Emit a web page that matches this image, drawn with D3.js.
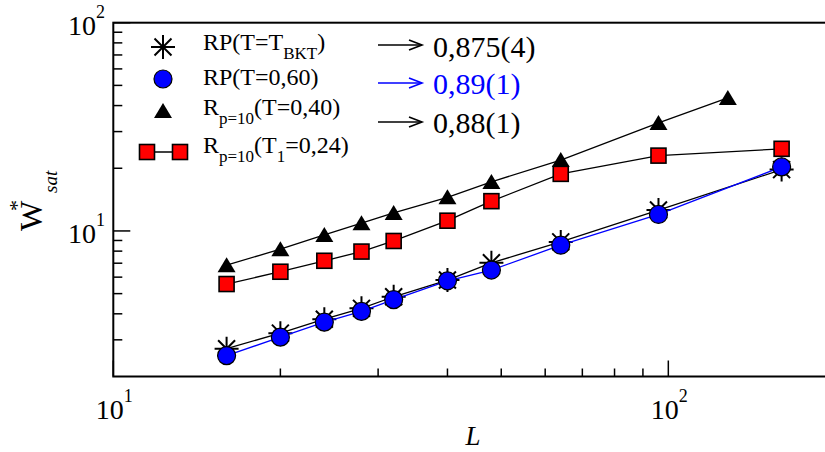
<!DOCTYPE html>
<html>
<head>
<meta charset="utf-8">
<script src="https://cdn.jsdelivr.net/npm/d3@7"></script>
<style>
  html, body { margin: 0; padding: 0; background: #fff; }
  svg { display: block; }
  text { font-family: "Liberation Serif", "DejaVu Serif", serif; }
</style>
</head>
<body>
<svg id="chart" width="825" height="452"></svg>
<script>
// ---- data ----
const sizesL   = [16, 20, 24, 28, 32, 40, 48, 64, 96, 160];
const sizesTri = [16, 20, 24, 28, 32, 40, 48, 64, 96, 128];
const wBKT     = [2.72, 3.23, 3.77, 4.25, 4.83, 5.81, 7.03, 8.86, 12.6, 19.7];   // RP(T=T_BKT), stars
const w060     = [2.52, 3.09, 3.65, 4.11, 4.68, 5.76, 6.49, 8.54, 12.0, 20.3];   // RP(T=0,60), circles
const w040     = [6.85, 8.17, 9.57, 10.9, 12.2, 14.5, 17.2, 21.9, 33.0, 43.5];   // Rp=10(T=0,40), triangles
const w024     = [5.56, 6.37, 7.19, 7.96, 8.95, 11.2, 13.9, 18.8, 23.0, 24.8];   // Rp=10(T1=0,24), squares
const xMajor   = [10, 100];
const yMajor   = [10, 100];
const xMinor   = [20, 30, 40, 50, 60, 70, 80, 90];
const yMinor   = [3, 4, 5, 6, 7, 8, 9, 20, 30, 40, 50, 60, 70, 80, 90];
const exponents = {10: "1", 100: "2"};
const slopes   = ["0,875(4)", "0,89(1)", "0,88(1)"];

const BLUE = "#0000ff", RED = "#ff0000";
const FONT = "Liberation Serif, DejaVu Serif, serif";

const svg = d3.select("#chart");
const x = d3.scaleLog().domain([10, 200]).range([113.3, 835.4]);
const y = d3.scaleLog().domain([2, 100]).range([376.5, 22.7]);

svg.append("defs").append("clipPath").attr("id", "c")
  .append("rect").attr("x", 0).attr("y", 0).attr("width", 825).attr("height", 452);

// frame
svg.append("rect")
  .attr("x", x(10)).attr("y", y(100))
  .attr("width", x(200) - x(10)).attr("height", y(2) - y(100))
  .attr("fill", "none").attr("stroke", "#000").attr("stroke-width", 2);

// ticks
const tk = svg.append("g").attr("stroke", "#000").attr("stroke-width", 1.5);
tk.selectAll(".xmaj").data(xMajor).join("line")
  .attr("x1", d => x(d)).attr("x2", d => x(d))
  .attr("y1", y(2)).attr("y2", y(2) - 16);
tk.selectAll(".xmin").data(xMinor).join("line")
  .attr("x1", d => x(d)).attr("x2", d => x(d))
  .attr("y1", y(2)).attr("y2", y(2) - 8);
tk.selectAll(".ymaj").data(yMajor).join("line")
  .attr("x1", x(10)).attr("x2", x(10) + 17)
  .attr("y1", d => y(d)).attr("y2", d => y(d));
tk.selectAll(".ymin").data(yMinor).join("line")
  .attr("x1", x(10)).attr("x2", x(10) + 9)
  .attr("y1", d => y(d)).attr("y2", d => y(d));

// tick labels
function powLabel(sel) {
  sel.attr("font-family", FONT);
  sel.append("tspan").attr("font-size", 28).text("10");
  sel.append("tspan").attr("font-size", 18).attr("dy", -17).text(d => exponents[d]);
}
svg.append("g").selectAll("text").data(xMajor).join("text")
  .attr("x", d => x(d) + 1).attr("y", 419)
  .attr("text-anchor", "middle")
  .call(powLabel);
svg.append("g").selectAll("text").data(yMajor).join("text")
  .attr("x", 105).attr("y", d => y(d) + 12)
  .attr("text-anchor", "end")
  .call(powLabel);

// axis titles
svg.append("text").attr("x", 473).attr("y", 445).attr("text-anchor", "middle")
  .attr("font-family", FONT).attr("font-size", 27).attr("font-style", "italic").text("L");
svg.append("text").attr("transform", "translate(42,231) rotate(-90)")
  .attr("font-family", FONT).attr("font-size", 32).text("W");
svg.append("text").attr("transform", "translate(24,211) rotate(-90)")
  .attr("font-family", FONT).attr("font-size", 22).text("*");
svg.append("text").attr("transform", "translate(57,193) rotate(-90)")
  .attr("font-family", FONT).attr("font-size", 19).attr("font-style", "italic").text("sat");

// markers
const starPath = (r) => {
  const a = r * Math.SQRT1_2;
  return `M${-r},0L${r},0M0,${-r}L0,${r}M${-a},${-a}L${a},${a}M${-a},${a}L${a},${-a}`;
};
const triPath = "M0,-8L9,7L-9,7Z";

const line = (xs, ys) => d3.line().x((d, i) => x(xs[i])).y(d => y(d))(ys);
const plot = svg.append("g").attr("clip-path", "url(#c)");

// stars: RP(T=T_BKT)
plot.append("path").attr("d", line(sizesL, wBKT))
  .attr("fill", "none").attr("stroke", "#000").attr("stroke-width", 1.3);
plot.append("g").selectAll("path").data(wBKT).join("path")
  .attr("transform", (d, i) => `translate(${x(sizesL[i])},${y(d)})`)
  .attr("d", starPath(12)).attr("stroke", "#000").attr("stroke-width", 2).attr("fill", "none");

// circles: RP(T=0,60)
plot.append("path").attr("d", line(sizesL, w060))
  .attr("fill", "none").attr("stroke", BLUE).attr("stroke-width", 1.3);
plot.append("g").selectAll("circle").data(w060).join("circle")
  .attr("cx", (d, i) => x(sizesL[i])).attr("cy", d => y(d)).attr("r", 9)
  .attr("fill", BLUE).attr("stroke", "#000").attr("stroke-width", 1.2);

// triangles: Rp=10(T=0,40)
plot.append("path").attr("d", line(sizesTri, w040))
  .attr("fill", "none").attr("stroke", "#000").attr("stroke-width", 1.3);
plot.append("g").selectAll("path").data(w040).join("path")
  .attr("transform", (d, i) => `translate(${x(sizesTri[i])},${y(d)})`)
  .attr("d", triPath).attr("fill", "#000");

// squares: Rp=10(T1=0,24)
plot.append("path").attr("d", line(sizesL, w024))
  .attr("fill", "none").attr("stroke", "#000").attr("stroke-width", 1.3);
plot.append("g").selectAll("rect").data(w024).join("rect")
  .attr("x", (d, i) => x(sizesL[i]) - 7.5).attr("y", d => y(d) - 7.5)
  .attr("width", 15).attr("height", 15)
  .attr("fill", RED).attr("stroke", "#000").attr("stroke-width", 1.6);

// legend
const lg = svg.append("g");
lg.append("path").attr("transform", "translate(163,47)").attr("d", starPath(12))
  .attr("stroke", "#000").attr("stroke-width", 2);
lg.append("circle").attr("cx", 163).attr("cy", 79).attr("r", 9)
  .attr("fill", BLUE).attr("stroke", "#000").attr("stroke-width", 1.2);
lg.append("path").attr("transform", "translate(163,111)").attr("d", triPath).attr("fill", "#000");
lg.append("line").attr("x1", 147).attr("x2", 180).attr("y1", 152).attr("y2", 152)
  .attr("stroke", "#000").attr("stroke-width", 1.3);
lg.selectAll(".sq").data([147, 180]).join("rect")
  .attr("x", d => d - 7.5).attr("y", 152 - 7.5).attr("width", 15).attr("height", 15)
  .attr("fill", RED).attr("stroke", "#000").attr("stroke-width", 1.6);

function legText(yb, parts) {
  const t = lg.append("text").attr("x", 203).attr("y", yb)
    .attr("font-family", FONT).attr("font-size", 24);
  let shift = 0;
  parts.forEach(p => {
    const s = p.sub ? 9 : 0;
    t.append("tspan").attr("dy", s - shift).attr("font-size", p.sub ? 17 : 24).text(p.t);
    shift = s;
  });
}
legText(50, [{t: "RP(T=T"}, {t: "BKT", sub: true}, {t: ")"}]);
legText(85, [{t: "RP(T=0,60)"}]);
legText(115, [{t: "R"}, {t: "p=10", sub: true}, {t: "(T=0,40)"}]);
legText(153, [{t: "R"}, {t: "p=10", sub: true}, {t: "(T"}, {t: "1", sub: true}, {t: "=0,24)"}]);

// slope arrows
const arrowY = [45, 83, 122];
const arrowC = ["#000", BLUE, "#000"];
const textY  = [57, 94, 133];
arrowY.forEach((ay, i) => {
  const g = svg.append("g").attr("stroke", arrowC[i]).attr("stroke-width", 1.6).attr("fill", "none");
  g.append("line").attr("x1", 378).attr("x2", 422).attr("y1", ay).attr("y2", ay);
  g.append("path").attr("d", `M409,${ay - 5}L422,${ay}L409,${ay + 5}`);
  svg.append("text").attr("x", 433).attr("y", textY[i])
    .attr("font-family", FONT).attr("font-size", 30)
    .attr("fill", arrowC[i]).text(slopes[i]);
});
</script>
</body>
</html>
